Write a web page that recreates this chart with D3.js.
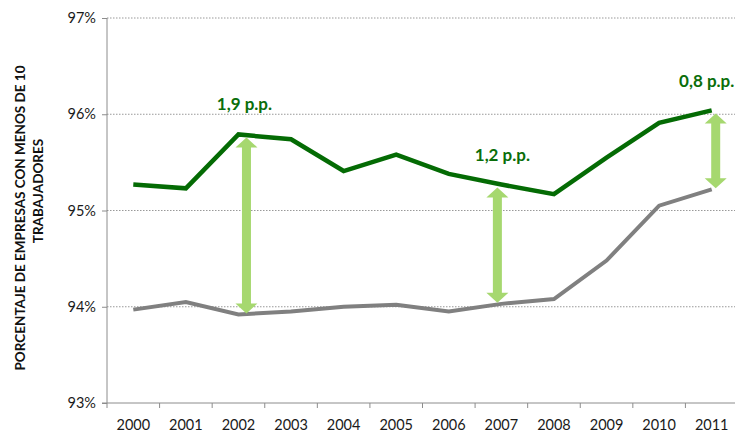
<!DOCTYPE html>
<meta charset="utf-8">
<style>
    body { margin: 0; background: #fff; }
    svg text { font-family: Lato, "Open Sans", sans-serif; }
    .tick text { font-size: 14.5px; fill: #1a1a1a; }
    .axis path, .axis line { stroke: #8c8c8c; }
    .grid line { stroke: #999; stroke-dasharray: 1.5 1.5; }
    .gap-label { font-weight: bold; font-size: 17px; fill: #0a6e0a; }
    .ytitle { font-weight: bold; font-size: 13.5px; fill: #111; }
</style>
<body>
<script src="https://cdn.jsdelivr.net/npm/d3@7"></script>
<script>
    // data
    var years = ["2000","2001","2002","2003","2004","2005","2006","2007","2008","2009","2010","2011"];
    var greenVals = [95.27, 95.23, 95.79, 95.74, 95.41, 95.58, 95.38, 95.27, 95.17, 95.55, 95.91, 96.04];
    var grayVals  = [93.97, 94.05, 93.92, 93.95, 94.00, 94.02, 93.95, 94.03, 94.08, 94.48, 95.05, 95.22];
    var yTicks = [93, 94, 95, 96, 97];

    // gap arrows: year index, offset in px from the year center, label
    var gapIdx = [2, 7, 11];
    var gapLabels = ["1,9 p.p.", "1,2 p.p.", "0,8 p.p."];
    var gapShift = [8, -4, 4];

    var w = 735, h = 434;
    var margin = {top: 18, right: -3, bottom: 31, left: 107};

    var svg = d3.select("body").append("svg")
        .attr("width", w)
        .attr("height", h);

    var x = d3.scaleBand()
        .domain(years)
        .range([margin.left, w - margin.right]);

    var y = d3.scaleLinear()
        .domain([93, 97])
        .range([h - margin.bottom, margin.top]);

    // gridlines
    svg.append("g")
        .attr("class", "grid")
        .selectAll("line")
        .data(yTicks.slice(1))
        .enter()
        .append("line")
        .attr("x1", margin.left)
        .attr("x2", w)
        .attr("y1", function(d) { return y(d); })
        .attr("y2", function(d) { return y(d); });

    // y axis
    svg.append("g")
        .attr("class", "axis")
        .attr("transform", "translate(" + margin.left + ",0)")
        .call(d3.axisLeft(y).tickValues(yTicks).tickSize(5).tickPadding(6)
            .tickFormat(function(d) { return d + "%"; }))
        .call(function(g) { g.select(".domain").attr("d", "M0," + y(97) + "V" + y(93)); });

    // x axis: ticks at band boundaries
    var xAxis = svg.append("g")
        .attr("class", "axis")
        .attr("transform", "translate(0," + y(93) + ")");
    xAxis.append("line")
        .attr("x1", margin.left - 5).attr("x2", w)
        .attr("y1", 0).attr("y2", 0);
    xAxis.selectAll(".tk")
        .data(years)
        .enter()
        .append("line")
        .attr("x1", function(d) { return x(d); })
        .attr("x2", function(d) { return x(d); })
        .attr("y1", 0).attr("y2", 5);
    xAxis.selectAll("text")
        .data(years)
        .enter()
        .append("text")
        .attr("x", function(d) { return x(d) + x.bandwidth() / 2; })
        .attr("y", 27)
        .attr("text-anchor", "middle")
        .style("font-size", "14.5px")
        .style("fill", "#1a1a1a")
        .text(function(d) { return d; });

    // lines
    var line = d3.line()
        .x(function(d, i) { return x(years[i]) + x.bandwidth() / 2; })
        .y(function(d) { return y(d); });

    svg.append("path")
        .datum(grayVals)
        .attr("d", line)
        .attr("fill", "none")
        .attr("stroke", "#808080")
        .attr("stroke-width", 4);

    svg.append("path")
        .datum(greenVals)
        .attr("d", line)
        .attr("fill", "none")
        .attr("stroke", "#046b04")
        .attr("stroke-width", 4.5);

    // double arrows
    function arrowPath(cx, yTop, yBot) {
        var sw = 4.5, hw = 11, hh = 10;
        return "M" + cx + "," + yTop +
            "L" + (cx + hw) + "," + (yTop + hh) +
            "L" + (cx + sw) + "," + (yTop + hh) +
            "L" + (cx + sw) + "," + (yBot - hh) +
            "L" + (cx + hw) + "," + (yBot - hh) +
            "L" + cx + "," + yBot +
            "L" + (cx - hw) + "," + (yBot - hh) +
            "L" + (cx - sw) + "," + (yBot - hh) +
            "L" + (cx - sw) + "," + (yTop + hh) +
            "L" + (cx - hw) + "," + (yTop + hh) + "Z";
    }

    svg.append("g").selectAll("path")
        .data(gapIdx)
        .enter()
        .append("path")
        .attr("d", function(d, i) {
            var cx = x(years[d]) + x.bandwidth() / 2 + gapShift[i];
            return arrowPath(cx, y(greenVals[d]) + 3, y(grayVals[d]) - 1);
        })
        .attr("fill", "#a6d86f");

    var labelDy = [-24, -24, -23];
    var labelDx = [-2, 5, -9];
    svg.append("g").selectAll("text")
        .data(gapIdx)
        .enter()
        .append("text")
        .attr("class", "gap-label")
        .attr("x", function(d, i) { return x(years[d]) + x.bandwidth() / 2 + gapShift[i] + labelDx[i]; })
        .attr("y", function(d, i) { return y(greenVals[d]) + labelDy[i] - (i == 0 ? 0 : 0); })
        .attr("text-anchor", "middle")
        .text(function(d, i) { return gapLabels[i]; });

    // y title
    var title = svg.append("text")
        .attr("class", "ytitle")
        .attr("transform", "translate(25,218) rotate(-90)")
        .attr("text-anchor", "middle");
    title.append("tspan").attr("x", 0).attr("dy", 0).text("PORCENTAJE  DE EMPRESAS CON MENOS DE 10");
    title.append("tspan").attr("x", 27).attr("dy", 18).text("TRABAJADORES");
</script>
</body>
